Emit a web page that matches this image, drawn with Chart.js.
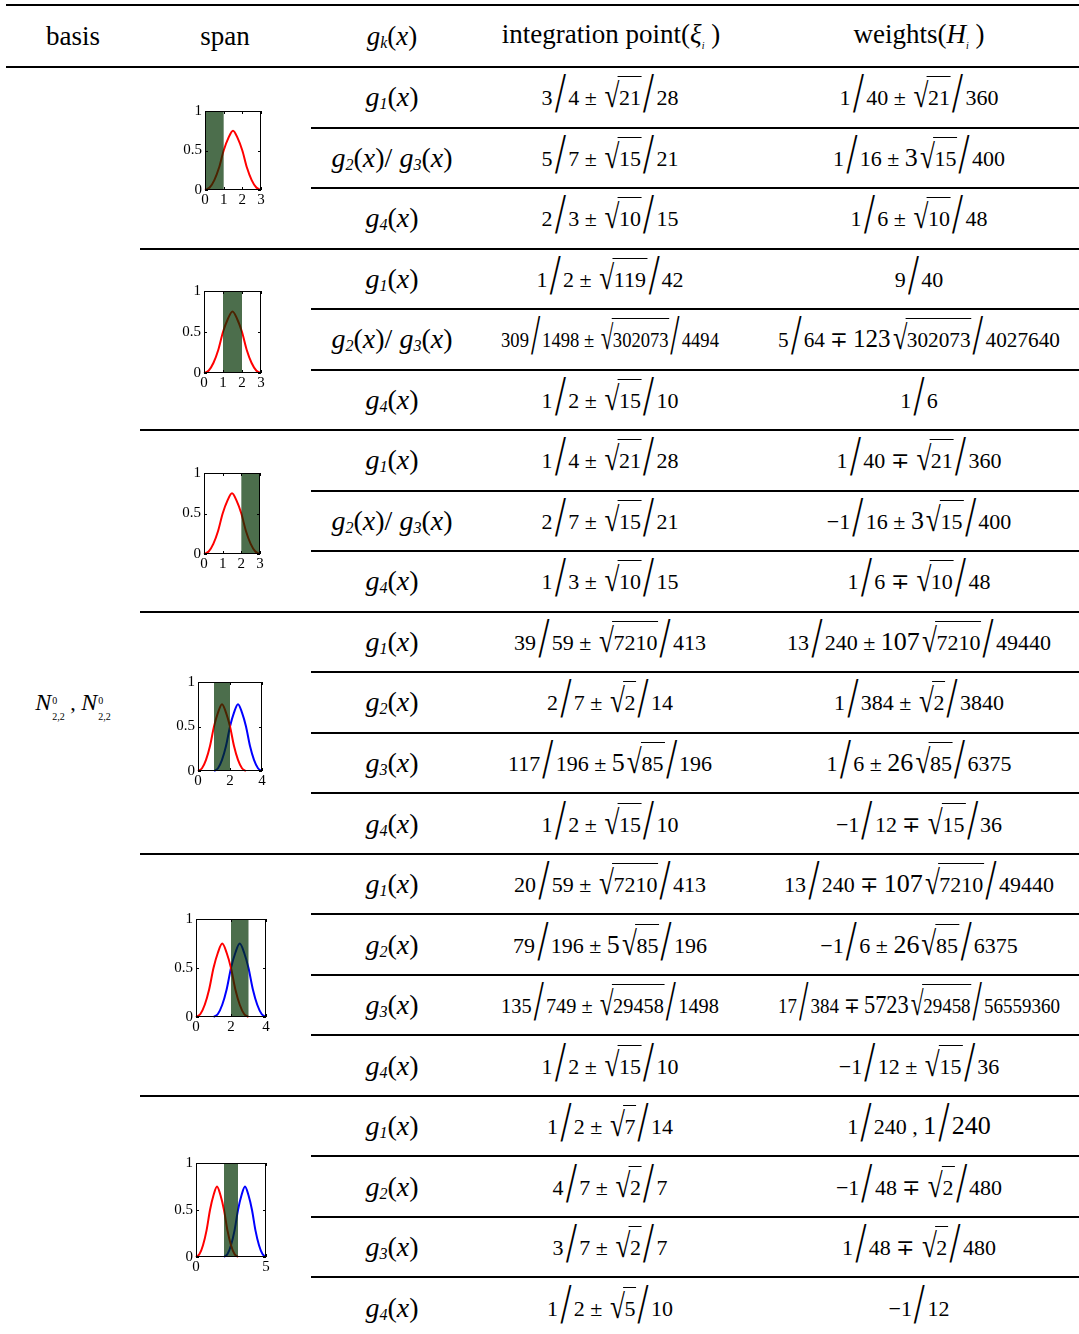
<!DOCTYPE html>
<html>
<head>
<meta charset="utf-8">
<script src="https://cdn.jsdelivr.net/npm/chart.js@4.4.0/dist/chart.umd.min.js"></script>
<style>
body { margin: 0; background: #fff; }
#page { position: relative; width: 1079px; height: 1334px; overflow: hidden;
        font-family: "Liberation Serif", "Times New Roman", serif; color: #000; }
.rule { position: absolute; height: 2px; background: #000; }
.cell { position: absolute; white-space: nowrap; font-size: 22px; line-height: 22px; height: 22px; }
.head { font-size: 27px; line-height: 26px; height: 26px; }
.gk { font-size: 28px; line-height: 22px; }
.gs { font-size: 16px; font-style: italic; position: relative; top: 3px; line-height: 0; }
.sl { display: inline-block; font-size: 56px; line-height: 0; position: relative; top: 7px; transform: scaleX(0.7); }
.rad { display: inline-block; font-size: 34px; line-height: 0; position: relative; top: 2px; transform: scaleX(0.8); margin-right: -2px; }
.ov { position: relative; }
.ov::before { content: ''; position: absolute; left: -1px; right: -1px; top: -9px; border-top: 1px solid #000; }
.big { font-size: 26px; line-height: 0; }
.tiny { font-size: 10px; font-style: italic; position: relative; top: 6px; line-height: 0; }
.nb { font-size: 24px; }
.ss { display: inline-block; font-size: 10px; line-height: 16px; vertical-align: -10px; text-align: left; margin-left: 1px; }
.chartbox { position: absolute; }
</style>
</head>
<body>
<div id="page"></div>
<script>
// table values
const groupRows = [3, 3, 3, 4, 4, 4];
const gLabels = ['1', '2/3', '4', '1', '2/3', '4', '1', '2/3', '4',
                 '1', '2', '3', '4', '1', '2', '3', '4', '1', '2', '3', '4'];
const integrationPoints = [
  '3/4 ± √21/28', '5/7 ± √15/21', '2/3 ± √10/15',
  '1/2 ± √119/42', '309/1498 ± √302073/4494', '1/2 ± √15/10',
  '1/4 ± √21/28', '2/7 ± √15/21', '1/3 ± √10/15',
  '39/59 ± √7210/413', '2/7 ± √2/14', '117/196 ± {5}√85/196', '1/2 ± √15/10',
  '20/59 ± √7210/413', '79/196 ± {5}√85/196', '135/749 ± √29458/1498', '1/2 ± √15/10',
  '1/2 ± √7/14', '4/7 ± √2/7', '3/7 ± √2/7', '1/2 ± √5/10'
];
const weights = [
  '1/40 ± √21/360', '1/16 ± {3}√15/400', '1/6 ± √10/48',
  '9/40', '5/64 ∓ {123}√302073/4027640', '1/6',
  '1/40 ∓ √21/360', '−1/16 ± {3}√15/400', '1/6 ∓ √10/48',
  '13/240 ± {107}√7210/49440', '1/384 ± √2/3840', '1/6 ± {26}√85/6375', '−1/12 ∓ √15/36',
  '13/240 ∓ {107}√7210/49440', '−1/6 ± {26}√85/6375', '17/384 ∓ {5723}√29458/56559360', '−1/12 ± √15/36',
  '1/240 , {1/240}', '−1/48 ∓ √2/480', '1/48 ∓ √2/480', '−1/12'
];

// span plots: quadratic B-spline bumps
const bumpY = [0, 0.031, 0.125, 0.281, 0.5, 0.656, 0.75, 0.656, 0.5, 0.281, 0.125, 0.031, 0];
const xFrom0 = [0, 0.25, 0.5, 0.75, 1, 1.25, 1.5, 1.75, 2, 2.25, 2.5, 2.75, 3];
const xFrom1 = [1, 1.25, 1.5, 1.75, 2, 2.25, 2.5, 2.75, 3, 3.25, 3.5, 3.75, 4];
const xFrom2 = [2, 2.25, 2.5, 2.75, 3, 3.25, 3.5, 3.75, 4, 4.25, 4.5, 4.75, 5];
const redX = [xFrom0, xFrom0, xFrom0, xFrom0, xFrom0, xFrom0];
const blueX = [null, null, null, xFrom1, xFrom1, xFrom2];
const axisMax = [3, 3, 3, 4, 4, 5];
const axisTicks = [[0, 1, 2, 3], [0, 1, 2, 3], [0, 1, 2, 3], [0, 2, 4], [0, 2, 4], [0, 5]];
const yTicks = [0, 0.5, 1];
const shadeFrom = [0, 1, 2, 1, 2, 2];
const shadeTo = [1, 2, 3, 2, 3, 3];

// plot area boxes (left, top, width, height) of each small figure
const plotBoxes = [
  [205, 107, 56, 83], [204, 287, 57, 86], [204, 469, 56, 85],
  [198, 678, 64, 93], [196, 915, 70, 102], [196, 1159, 70, 98]
];

const page = document.getElementById('page');
const ROW0 = 67, ROWH = 60.52;
const COL_G = 392, COL_IP = 610, COL_W = 919;

function rule(x1, x2, y) {
  const d = document.createElement('div');
  d.className = 'rule';
  d.style.left = x1 + 'px';
  d.style.width = (x2 - x1) + 'px';
  d.style.top = (y - 1) + 'px';
  page.appendChild(d);
}

function place(html, cx, cy, cls, maxW) {
  const d = document.createElement('div');
  d.className = 'cell ' + (cls || '');
  d.innerHTML = html;
  page.appendChild(d);
  const h = d.offsetHeight;
  d.style.left = cx + 'px';
  d.style.top = (cy - h / 2) + 'px';
  let s = 1;
  if (maxW && d.offsetWidth > maxW) s = maxW / d.offsetWidth;
  d.style.transform = 'translateX(-50%) scaleX(' + s + ')';
  return d;
}

function fmt(s) {
  return s
    .replace(/\//g, '<span class="sl">/</span>')
    .replace(/\{([^}]*)\}/g, '<span class="big">$1</span>')
    .replace(/√(\d+)/g, '<span class="rad">√</span><span class="ov">$1</span>');
}

function gHtml(label) {
  return label.split('/').map(n => '<i>g</i><span class="gs">' + n + '</span>(<i>x</i>)').join('/ ');
}

// header
rule(6, 1079, 5);
rule(6, 1079, 67);
place('basis', 73, 36, 'head');
place('span', 225, 36, 'head');
place('<i>g</i><span class="gs">k</span>(<i>x</i>)', COL_G, 36, 'head');
place('integration point(<i>ξ</i><span class="tiny">i</span> )', 611, 34, 'head');
place('weights(<i>H</i><span class="tiny">i</span> )', 919, 34, 'head');

// body rows
const groupStarts = [];
let acc = 0;
groupRows.forEach(n => { groupStarts.push(acc); acc += n; });

for (let i = 0; i < gLabels.length; i++) {
  const top = ROW0 + i * ROWH;
  const cy = top + ROWH / 2;
  if (i > 0) rule(groupStarts.includes(i) ? 140 : 311, 1079, top);
  place(gHtml(gLabels[i]), COL_G, cy, 'gk');
  place(fmt(integrationPoints[i]), COL_IP, cy, '', 218);
  place(fmt(weights[i]), COL_W, cy, '', 282);
}

place('<i class="nb">N</i><span class="ss">0<br>2,2</span> , <i class="nb">N</i><span class="ss">0<br>2,2</span>', 73, 702, '');

// small span figures
const frameShade = {
  id: 'frameShade',
  afterDatasetsDraw(chart, args, opts) {
    const { ctx, chartArea: a, scales: { x } } = chart;
    const x1 = x.getPixelForValue(opts.from), x2 = x.getPixelForValue(opts.to);
    ctx.save();
    ctx.fillStyle = 'rgba(0, 48, 0, 0.7)';
    ctx.fillRect(x1, a.top, x2 - x1, a.bottom - a.top);
    ctx.restore();
  },
  afterDraw(chart) {
    const { ctx, chartArea: a, scales: { x, y } } = chart;
    ctx.save();
    ctx.strokeStyle = '#000';
    ctx.lineWidth = 1;
    ctx.strokeRect(a.left + 0.5, a.top + 0.5, a.right - a.left - 1, a.bottom - a.top - 1);
    ctx.beginPath();
    x.ticks.forEach(t => {
      const px = Math.round(x.getPixelForValue(t.value)) + 0.5;
      ctx.moveTo(px, a.bottom); ctx.lineTo(px, a.bottom - 3);
      ctx.moveTo(px, a.top); ctx.lineTo(px, a.top + 3);
    });
    y.ticks.forEach(t => {
      const py = Math.round(y.getPixelForValue(t.value)) + 0.5;
      ctx.moveTo(a.left, py); ctx.lineTo(a.left + 3, py);
      ctx.moveTo(a.right, py); ctx.lineTo(a.right - 3, py);
    });
    ctx.stroke();
    ctx.restore();
  }
};

const tickFont = { family: 'Liberation Serif', size: 15 };

plotBoxes.forEach((b, i) => {
  const [L, T, W, H] = b;
  const box = document.createElement('div');
  box.className = 'chartbox';
  box.style.left = (L - 30) + 'px';
  box.style.top = (T - 8) + 'px';
  const cv = document.createElement('canvas');
  cv.width = W + 38;
  cv.height = H + 28;
  cv.style.width = (W + 38) + 'px';
  cv.style.height = (H + 28) + 'px';
  box.appendChild(cv);
  page.appendChild(box);

  const datasets = [{
    data: redX[i].map((v, k) => ({ x: v, y: bumpY[k] })),
    borderColor: '#ff0000', borderWidth: 2, pointRadius: 0,
    cubicInterpolationMode: 'monotone', clip: 3
  }];
  if (blueX[i]) {
    datasets.push({
      data: blueX[i].map((v, k) => ({ x: v, y: bumpY[k] })),
      borderColor: '#0000ff', borderWidth: 2, pointRadius: 0,
      cubicInterpolationMode: 'monotone', clip: 3
    });
  }

  new Chart(cv, {
    type: 'line',
    data: { datasets },
    options: {
      responsive: false,
      animation: false,
      devicePixelRatio: 1,
      layout: { padding: { top: 8, right: 8, left: 0, bottom: 0 } },
      plugins: {
        legend: { display: false },
        tooltip: { enabled: false },
        frameShade: { from: shadeFrom[i], to: shadeTo[i] }
      },
      scales: {
        x: {
          type: 'linear', min: 0, max: axisMax[i],
          grid: { display: false, drawTicks: false },
          border: { display: false },
          afterBuildTicks: s => { s.ticks = axisTicks[i].map(v => ({ value: v })); },
          afterFit: s => { s.height = 20; },
          ticks: { font: tickFont, color: '#000', padding: 1, maxRotation: 0, autoSkip: false,
                   callback: v => String(v) }
        },
        y: {
          type: 'linear', min: 0, max: 1,
          grid: { display: false, drawTicks: false },
          border: { display: false },
          afterBuildTicks: s => { s.ticks = yTicks.map(v => ({ value: v })); },
          afterFit: s => { s.width = 30; },
          ticks: { font: tickFont, color: '#000', padding: 3, autoSkip: false,
                   callback: v => String(v) }
        }
      }
    },
    plugins: [frameShade]
  });
});
</script>
</body>
</html>
